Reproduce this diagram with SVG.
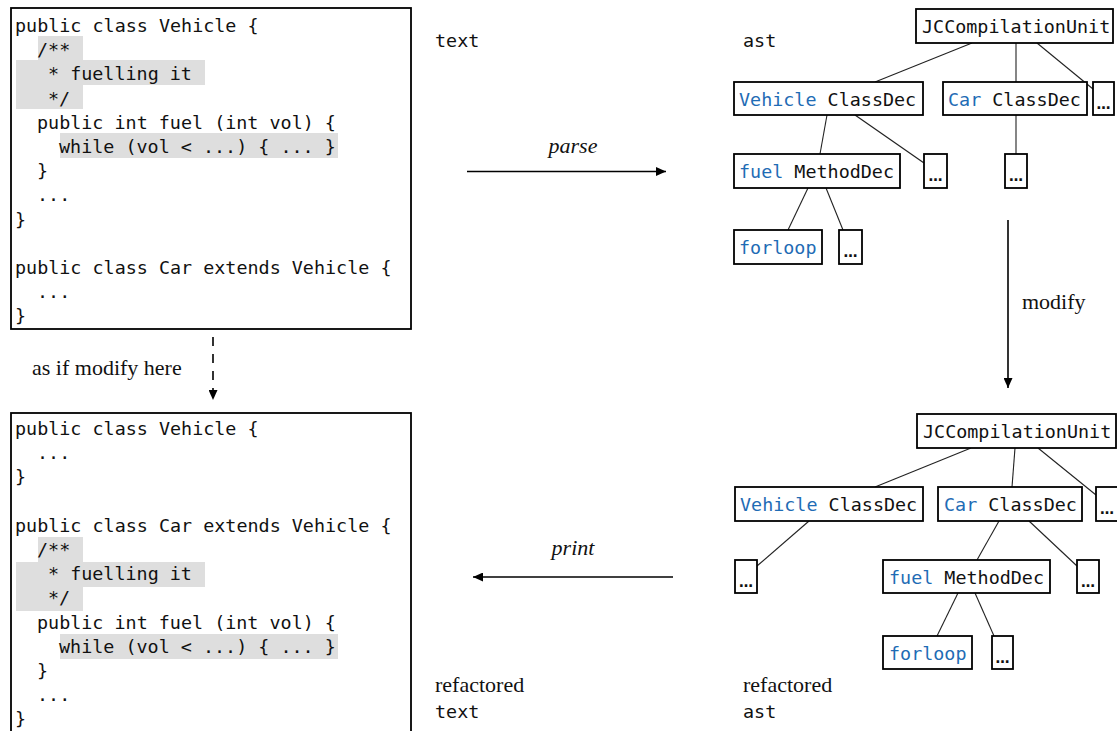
<svg xmlns="http://www.w3.org/2000/svg" width="1117" height="731" viewBox="0 0 1117 731">
  <style>
    .code { font-family: "DejaVu Sans Mono", "Liberation Mono", monospace; font-size: 18.4px; fill: #111; }
    .hl { fill: #dedede; }
    .frame { fill: none; stroke: #000; stroke-width: 1.8; }
    .node rect { fill: #fff; stroke: #000; stroke-width: 1.8; }
    .kw { fill: #1f6cb5; }
    .dots { font-family: "DejaVu Sans", sans-serif; font-size: 14px; font-weight: bold; fill: #111; text-anchor: middle; }
    .edge { stroke: #222; stroke-width: 1.1; fill: none; }
    .arrow { stroke: #000; stroke-width: 1.6; fill: none; }
    .lbl { font-family: "Liberation Serif", "Times New Roman", serif; font-size: 22px; fill: #111; }
    .it { font-style: italic; }
  </style>
  <defs>
    <marker id="head" markerUnits="userSpaceOnUse" markerWidth="10" markerHeight="9" refX="10" refY="4.5" orient="auto">
      <path d="M0,0 L10,4.5 L0,9 z" fill="#000"/>
    </marker>
  </defs>

  <rect width="1117" height="731" fill="#fff"/>

  <!-- original source text -->
  <g id="source-text">
    <rect class="hl" x="38" y="36" width="45" height="24"/>
    <rect class="hl" x="16" y="60" width="189" height="25"/>
    <rect class="hl" x="16" y="85" width="67" height="24"/>
    <rect class="hl" x="60" y="133" width="278" height="25"/>
    <rect class="frame" x="11" y="8" width="400" height="321"/>
    <text class="code" x="15" y="32">public class Vehicle {</text>
    <text class="code" x="37" y="56.2">/**</text>
    <text class="code" x="48" y="80.4">* fuelling it</text>
    <text class="code" x="48" y="104.6">*/</text>
    <text class="code" x="37" y="128.8">public int fuel (int vol) {</text>
    <text class="code" x="59" y="153">while (vol &lt; ...) { ... }</text>
    <text class="code" x="37" y="177.2">}</text>
    <text class="code" x="37" y="201.4">...</text>
    <text class="code" x="15" y="225.6">}</text>
    <text class="code" x="15" y="274">public class Car extends Vehicle {</text>
    <text class="code" x="37" y="298.2">...</text>
    <text class="code" x="15" y="322.4">}</text>
  </g>

  <!-- refactored source text -->
  <g id="refactored-text">
    <rect class="hl" x="38" y="537" width="45" height="25"/>
    <rect class="hl" x="16" y="562" width="189" height="25"/>
    <rect class="hl" x="16" y="587" width="67" height="24"/>
    <rect class="hl" x="60" y="634" width="278" height="25"/>
    <rect class="frame" x="11" y="413" width="400" height="330"/>
    <text class="code" x="15" y="435">public class Vehicle {</text>
    <text class="code" x="37" y="459.2">...</text>
    <text class="code" x="15" y="483.4">}</text>
    <text class="code" x="15" y="531.8">public class Car extends Vehicle {</text>
    <text class="code" x="37" y="556">/**</text>
    <text class="code" x="48" y="580.2">* fuelling it</text>
    <text class="code" x="48" y="604.4">*/</text>
    <text class="code" x="37" y="628.6">public int fuel (int vol) {</text>
    <text class="code" x="59" y="652.8">while (vol &lt; ...) { ... }</text>
    <text class="code" x="37" y="677">}</text>
    <text class="code" x="37" y="701.2">...</text>
    <text class="code" x="15" y="725.4">}</text>
  </g>

  <!-- captions -->
  <g id="captions">
    <text class="code" x="435" y="47">text</text>
    <text class="code" x="743" y="47">ast</text>
    <text class="lbl" x="435" y="692">refactored</text>
    <text class="code" x="435" y="718">text</text>
    <text class="lbl" x="743" y="692">refactored</text>
    <text class="code" x="743" y="718">ast</text>
    <text class="lbl it" x="573" y="153" text-anchor="middle">parse</text>
    <text class="lbl it" x="573" y="555" text-anchor="middle">print</text>
    <text class="lbl" x="1022" y="309">modify</text>
    <text class="lbl" x="32" y="375">as if modify here</text>
  </g>

  <!-- connectors -->
  <g id="connectors">
    <!-- original tree edges -->
    <line class="edge" x1="972" y1="43" x2="875" y2="82"/>
    <line class="edge" x1="1016" y1="43" x2="1016" y2="82"/>
    <line class="edge" x1="1037" y1="43" x2="1093" y2="89"/>
    <line class="edge" x1="827" y1="115" x2="820" y2="154"/>
    <line class="edge" x1="855" y1="115" x2="924" y2="163"/>
    <line class="edge" x1="1016" y1="115" x2="1016" y2="154"/>
    <line class="edge" x1="808" y1="188" x2="788" y2="230"/>
    <line class="edge" x1="826" y1="188" x2="843" y2="230"/>
    <!-- refactored tree edges -->
    <line class="edge" x1="971" y1="448" x2="875" y2="487"/>
    <line class="edge" x1="1015" y1="448" x2="1012" y2="487"/>
    <line class="edge" x1="1038" y1="448" x2="1096" y2="495"/>
    <line class="edge" x1="809" y1="521" x2="757" y2="566"/>
    <line class="edge" x1="999" y1="521" x2="977" y2="560"/>
    <line class="edge" x1="1029" y1="521" x2="1077" y2="566"/>
    <line class="edge" x1="958" y1="593" x2="937" y2="636"/>
    <line class="edge" x1="975" y1="593" x2="994" y2="636"/>
    <!-- transformation arrows -->
    <line class="arrow" x1="467" y1="171.5" x2="666" y2="171.5" marker-end="url(#head)"/>
    <line class="arrow" x1="1008" y1="220" x2="1008" y2="388" marker-end="url(#head)"/>
    <line class="arrow" x1="673" y1="577" x2="473" y2="577" marker-end="url(#head)"/>
    <line class="arrow" x1="213" y1="337" x2="213" y2="400" stroke-dasharray="9 8" marker-end="url(#head)"/>
  </g>

  <!-- original AST -->
  <g id="ast-unit" class="node">
    <rect x="916" y="9" width="197" height="34"/>
    <text class="code" x="922" y="33">JCCompilationUnit</text>
  </g>
  <g id="ast-vehicle" class="node">
    <rect x="734" y="82" width="189" height="33"/>
    <text class="code" x="739" y="106"><tspan class="kw">Vehicle</tspan> ClassDec</text>
  </g>
  <g id="ast-car" class="node">
    <rect x="943" y="82" width="144" height="33"/>
    <text class="code" x="948" y="106"><tspan class="kw">Car</tspan> ClassDec</text>
  </g>
  <g id="ast-unit-more" class="node">
    <rect x="1093" y="82" width="21" height="33"/>
    <text class="dots" x="1103.5" y="109">…</text>
  </g>
  <g id="ast-fuel" class="node">
    <rect x="734" y="154" width="166" height="34"/>
    <text class="code" x="739" y="178"><tspan class="kw">fuel</tspan> MethodDec</text>
  </g>
  <g id="ast-vehicle-more" class="node">
    <rect x="924" y="154" width="23" height="34"/>
    <text class="dots" x="935.5" y="181">…</text>
  </g>
  <g id="ast-car-more" class="node">
    <rect x="1005" y="154" width="22" height="34"/>
    <text class="dots" x="1016" y="181">…</text>
  </g>
  <g id="ast-forloop" class="node">
    <rect x="734" y="230" width="88" height="34"/>
    <text class="code" x="739" y="254"><tspan class="kw">forloop</tspan></text>
  </g>
  <g id="ast-fuel-more" class="node">
    <rect x="839" y="230" width="23" height="34"/>
    <text class="dots" x="850.5" y="257">…</text>
  </g>

  <!-- refactored AST -->
  <g id="rast-unit" class="node">
    <rect x="917" y="414" width="199" height="34"/>
    <text class="code" x="923" y="438">JCCompilationUnit</text>
  </g>
  <g id="rast-vehicle" class="node">
    <rect x="735" y="487" width="188" height="34"/>
    <text class="code" x="740" y="511"><tspan class="kw">Vehicle</tspan> ClassDec</text>
  </g>
  <g id="rast-car" class="node">
    <rect x="938" y="487" width="144" height="34"/>
    <text class="code" x="944" y="511"><tspan class="kw">Car</tspan> ClassDec</text>
  </g>
  <g id="rast-unit-more" class="node">
    <rect x="1096" y="487" width="22" height="34"/>
    <text class="dots" x="1107" y="514">…</text>
  </g>
  <g id="rast-vehicle-more" class="node">
    <rect x="735" y="560" width="22" height="33"/>
    <text class="dots" x="746" y="587">…</text>
  </g>
  <g id="rast-fuel" class="node">
    <rect x="883" y="560" width="167" height="33"/>
    <text class="code" x="889" y="584"><tspan class="kw">fuel</tspan> MethodDec</text>
  </g>
  <g id="rast-car-more" class="node">
    <rect x="1077" y="560" width="22" height="33"/>
    <text class="dots" x="1088" y="587">…</text>
  </g>
  <g id="rast-forloop" class="node">
    <rect x="883" y="636" width="89" height="33"/>
    <text class="code" x="889" y="660"><tspan class="kw">forloop</tspan></text>
  </g>
  <g id="rast-fuel-more" class="node">
    <rect x="992" y="636" width="21" height="33"/>
    <text class="dots" x="1002.5" y="663">…</text>
  </g>
</svg>
